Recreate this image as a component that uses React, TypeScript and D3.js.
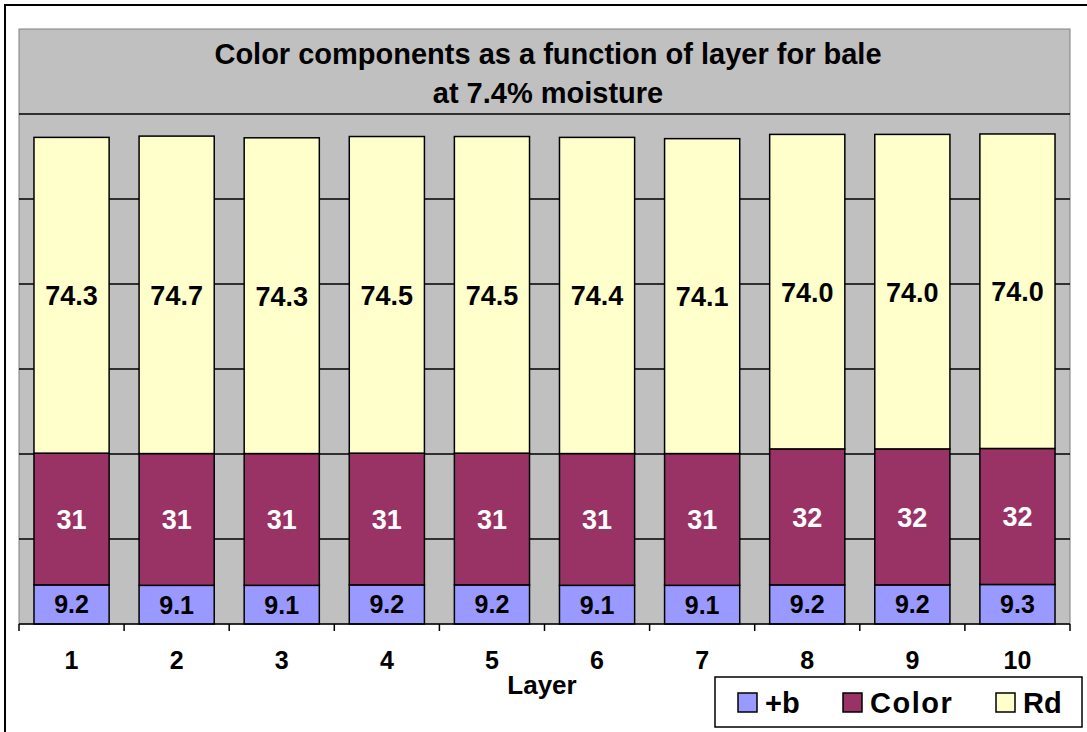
import React from "react";
import * as d3 from "d3";

const layers = ["1", "2", "3", "4", "5", "6", "7", "8", "9", "10"];
const plusB = [9.2, 9.1, 9.1, 9.2, 9.2, 9.1, 9.1, 9.2, 9.2, 9.3];
const colorVals = [31, 31, 31, 31, 31, 31, 31, 32, 32, 32];
const rdVals = [74.3, 74.7, 74.3, 74.5, 74.5, 74.4, 74.1, 74.0, 74.0, 74.0];
const yTicks = [0, 20, 40, 60, 80, 100, 120];
const seriesNames = ["+b", "Color", "Rd"];
const seriesColors = ["#9999FF", "#993366", "#FFFFCC"];
const labelColors = ["#000", "#fff", "#000"];
const titleLines = ["Color components as a function of layer for bale", "at 7.4% moisture"];

export default function App() {
  const W = 1087, H = 732;
  const left = 19, right = 1070, top = 114, bottom = 624;
  const x = d3.scaleBand().domain(layers).range([left, right]).paddingInner(0.285).paddingOuter(0.1425);
  const xOuter = d3.scaleBand().domain(layers).range([left, right]);
  const y = d3.scaleLinear().domain([0, 120]).range([bottom, top]);
  const rows = layers.map((l, i) => ({ layer: l, b: plusB[i], c: colorVals[i], r: rdVals[i] }));
  const stack = d3.stack<any>().keys(["b", "c", "r"])(rows);
  const rawVals = [plusB, colorVals, rdVals];
  const font = "Arial, 'Liberation Sans', Helvetica, sans-serif";
  const fmt = [(v: number) => v.toFixed(1), (v: number) => String(v), (v: number) => v.toFixed(1)];
  return (
    <svg width={W} height={H} style={{ position: "absolute", left: 0, top: 0 }} fontFamily={font}>
      <rect x={0} y={0} width={W} height={H} fill="#fff" />
      <rect x={5} y={5} width={W + 20} height={H + 20} fill="none" stroke="#000" strokeWidth={2} />
      <rect x={left} y={29} width={right - left} height={bottom - 29} fill="#C0C0C0" stroke="#808080" strokeWidth={1} />
      {titleLines.map((t, i) => (
        <text key={i} x={548} y={64 + i * 39} textAnchor="middle" fontSize={29} fontWeight="bold" fill="#000">{t}</text>
      ))}
      {yTicks.slice(1).map(t => (
        <line key={t} x1={left} x2={right} y1={y(t)} y2={y(t)} stroke="#000" strokeWidth={1.5} />
      ))}
      {stack.map((s, si) => (
        <g key={si}>
          {s.map((d: any, i: number) => (
            <g key={i}>
              <rect x={x(layers[i])!} y={y(d[1])} width={x.bandwidth()} height={y(d[0]) - y(d[1])}
                fill={seriesColors[si]} stroke="#000" strokeWidth={1.5} />
              <text x={x(layers[i])! + x.bandwidth() / 2} y={(y(d[0]) + y(d[1])) / 2 + (si === 0 ? 9 : 10)}
                textAnchor="middle" fontSize={si === 0 ? 25 : 27} fontWeight="bold" fill={labelColors[si]}>
                {fmt[si](rawVals[si][i])}
              </text>
            </g>
          ))}
        </g>
      ))}
      <line x1={left} x2={right} y1={bottom} y2={bottom} stroke="#000" strokeWidth={1.5} />
      {layers.map(l => (
        <line key={l} x1={xOuter(l)!} x2={xOuter(l)!} y1={bottom} y2={bottom + 7} stroke="#000" strokeWidth={1.5} />
      ))}
      <line x1={right} x2={right} y1={bottom} y2={bottom + 7} stroke="#000" strokeWidth={1.5} />
      {layers.map(l => (
        <text key={l} x={xOuter(l)! + xOuter.bandwidth() / 2} y={669} textAnchor="middle" fontSize={25} fontWeight="bold">{l}</text>
      ))}
      <text x={542} y={694} textAnchor="middle" fontSize={26} fontWeight="bold">Layer</text>
      <rect x={715} y={677} width={367} height={50} fill="#fff" stroke="#000" strokeWidth={1.5} />
      {seriesNames.map((n, i) => {
        const xs = [738, 843, 996][i];
        return (
          <g key={n}>
            <rect x={xs} y={693} width={19} height={19} fill={seriesColors[i]} stroke="#000" strokeWidth={1.5} />
            <text x={xs + 27} y={713} fontSize={29} fontWeight="bold" letterSpacing={i === 1 ? 1.5 : 0}>{n}</text>
          </g>
        );
      })}
    </svg>
  );
}
